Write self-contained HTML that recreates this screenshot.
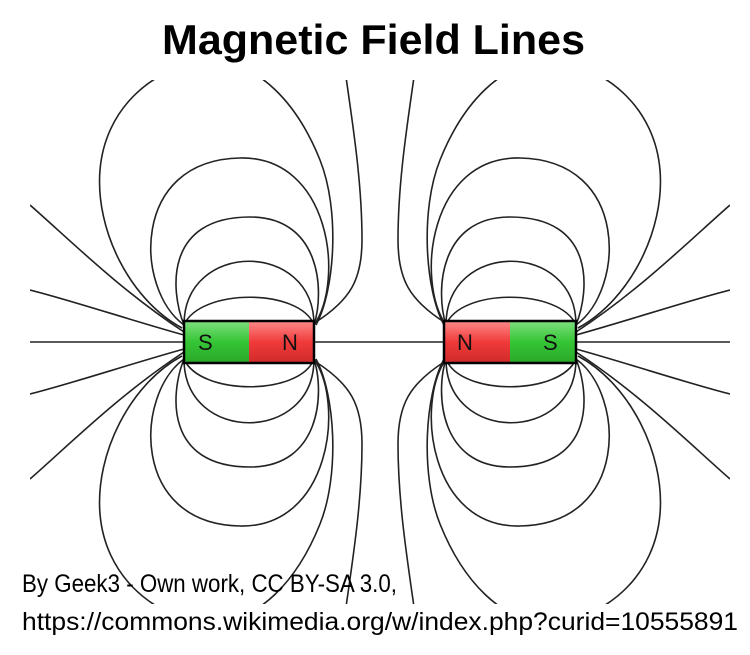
<!DOCTYPE html>
<html><head><style>html,body{margin:0;padding:0;background:#fff}svg{display:block}</style></head>
<body>
<svg width="750" height="655" viewBox="0 0 750 655" xmlns="http://www.w3.org/2000/svg">
<defs>
<clipPath id="c"><rect x="30" y="80" width="700" height="524"/></clipPath>
<linearGradient id="g" x1="0" y1="0" x2="0" y2="1"><stop offset="0" stop-color="#7ee07e"/><stop offset="0.5" stop-color="#35c535"/><stop offset="1" stop-color="#2aa82a"/></linearGradient>
<linearGradient id="r" x1="0" y1="0" x2="0" y2="1"><stop offset="0" stop-color="#ff8a8a"/><stop offset="0.5" stop-color="#f03a3a"/><stop offset="1" stop-color="#d02a2a"/></linearGradient>
<g id="q" fill="none" stroke="#222" stroke-width="1.6">
<path d="M184,325 C200,288 300,288 314,325"/>
<path d="M184,325 C184,240 314,240 314,325"/>
<path d="M184,325 C170,290 165,217 250,217 C320,217 325,290 314,325"/>
<path d="M184,325 C135,290 130,160 240,158 C330,156 345,280 314,325"/>
<path d="M182,328 C130,300 95,230 100,170 C105,110 150,70 200,62 C260,55 300,110 320,160 C340,210 335,290 316,325"/>
<path d="M316,322 C350,300 362,280 362,240 C362,180 352,120 345,70"/>
<path d="M184,335 C130,320 70,300 30,290"/>
<path d="M184,332 C120,290 70,240 30,205"/>
</g>
<g id="h">
<use href="#q"/>
<use href="#q" transform="matrix(1,0,0,-1,0,684)"/>
</g>
</defs>
<text x="162" y="54" font-family="Liberation Sans, sans-serif" font-weight="bold" font-size="42" textLength="423" lengthAdjust="spacingAndGlyphs" fill="#000">Magnetic Field Lines</text>
<g clip-path="url(#c)">
<use href="#h"/>
<use href="#h" transform="translate(760,0) scale(-1,1)"/>
<path d="M30,342 H730" stroke="#222" stroke-width="1.6"/>
</g>
<rect x="184" y="321" width="65" height="42" fill="url(#g)"/>
<rect x="249" y="321" width="65" height="42" fill="url(#r)"/>
<rect x="184" y="321" width="130" height="42" fill="none" stroke="#000" stroke-width="2.5"/>
<rect x="444" y="321" width="66" height="42" fill="url(#r)"/>
<rect x="510" y="321" width="66" height="42" fill="url(#g)"/>
<rect x="444" y="321" width="132" height="42" fill="none" stroke="#000" stroke-width="2.5"/>
<g font-family="Liberation Sans, sans-serif" font-size="22" fill="#111">
<text x="198" y="350">S</text><text x="282" y="350">N</text>
<text x="457" y="350">N</text><text x="543" y="350">S</text>
</g>
<g font-family="Liberation Sans, sans-serif" font-size="25" fill="#000">
<text x="22" y="592" textLength="375" lengthAdjust="spacingAndGlyphs">By Geek3 - Own work, CC BY-SA 3.0,</text>
<text x="22" y="630" textLength="716" lengthAdjust="spacingAndGlyphs">https://commons.wikimedia.org/w/index.php?curid=10555891</text>
</g>
</svg>
</body></html>
